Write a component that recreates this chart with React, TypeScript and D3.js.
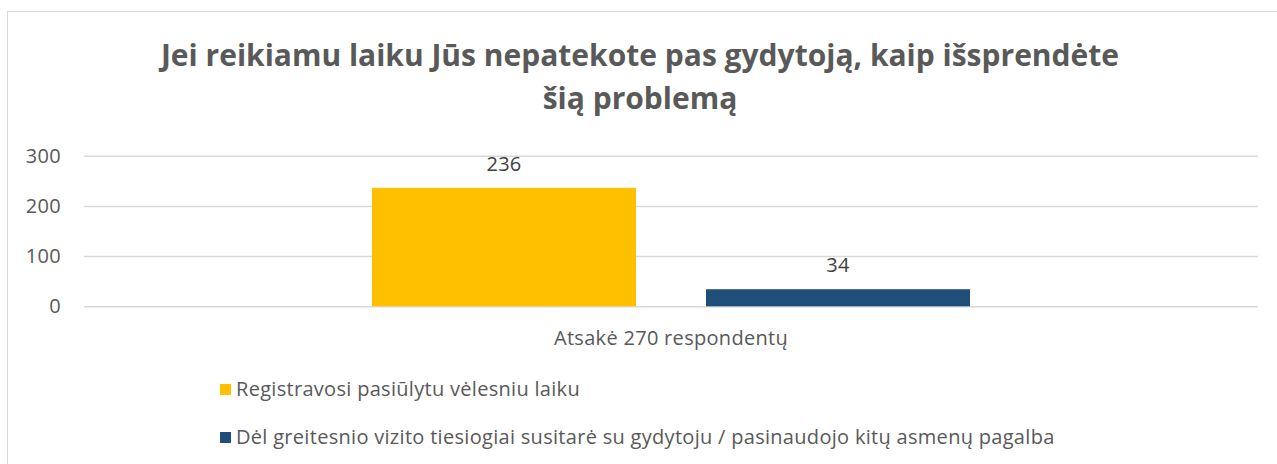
import * as React from 'react';
import * as d3 from 'd3';

const categories = ['Atsakė 270 respondentų'];
const seriesNames = [
  'Registravosi pasiūlytu vėlesniu laiku',
  'Dėl greitesnio vizito tiesiogiai susitarė su gydytoju / pasinaudojo kitų asmenų pagalba',
];
const seriesValues = [236, 34];
const seriesColors = ['#FFC000', '#1F4E79'];
const yTicks = [0, 100, 200, 300];
const titleLines = ['Jei reikiamu laiku Jūs nepatekote pas gydytoją, kaip išsprendėte', 'šią problemą'];

const W = 1277;
const H = 464;
const FONT = "'Open Sans', 'Noto Sans', sans-serif";
const TEXT = '#595959';
const FS = 20;
const LS = 0.3;

export default function App() {
  const svgRef = React.useRef<SVGSVGElement>(null);

  React.useEffect(() => {
    if (!svgRef.current) return;
    const svg = d3.select(svgRef.current);
    svg.selectAll('*').remove();

    const plot = { left: 84, right: 1258, top: 155.7, bottom: 306.3 };

    // frame
    svg
      .append('rect')
      .attr('x', 7.5)
      .attr('y', 11.5)
      .attr('width', W + 10)
      .attr('height', H + 10)
      .attr('fill', '#fff')
      .attr('stroke', '#d9d9d9');

    // title
    svg
      .append('text')
      .attr('text-anchor', 'middle')
      .attr('font-family', FONT)
      .attr('font-weight', 'bold')
      .attr('font-size', 30)
      .attr('fill', TEXT)
      .selectAll('tspan')
      .data(titleLines)
      .enter()
      .append('tspan')
      .attr('x', 640)
      .attr('y', (d, i) => 66 + i * 43)
      .text((d) => d);

    const y = d3.scaleLinear().domain([0, 300]).range([plot.bottom, plot.top]);
    const x0 = d3.scaleBand().domain(categories).range([plot.left, plot.right]);
    const x1 = d3
      .scaleBand()
      .domain(seriesNames)
      .range([0, x0.bandwidth()])
      .paddingInner(70 / 334)
      .paddingOuter((372 - 84) / 334);

    // gridlines
    const yAxis = d3
      .axisLeft(y)
      .tickValues(yTicks)
      .tickSize(-(plot.right - plot.left))
      .tickPadding(23);
    const ya = svg
      .append('g')
      .attr('transform', `translate(${plot.left},0)`)
      .call(yAxis);
    ya.select('.domain').remove();
    ya.selectAll('.tick line').attr('stroke', '#d9d9d9').attr('stroke-width', 1.5);
    ya.selectAll('.tick text')
      .attr('fill', TEXT)
      .attr('font-family', FONT)
      .attr('font-size', FS)
      .attr('letter-spacing', LS);

    // bars
    const g = svg.append('g');
    categories.forEach((c) => {
      seriesNames.forEach((s, i) => {
        const bx = (x0(c) || 0) + (x1(s) || 0);
        g.append('rect')
          .attr('x', bx)
          .attr('y', y(seriesValues[i]))
          .attr('width', x1.bandwidth())
          .attr('height', y(0) - y(seriesValues[i]))
          .attr('fill', seriesColors[i]);
        g.append('text')
          .attr('x', bx + x1.bandwidth() / 2)
          .attr('y', y(seriesValues[i]) - 17)
          .attr('text-anchor', 'middle')
          .attr('font-family', FONT)
          .attr('font-size', FS)
          .attr('letter-spacing', LS)
          .attr('fill', '#404040')
          .text(seriesValues[i]);
      });
      svg
        .append('text')
        .attr('x', (x0(c) || 0) + x0.bandwidth() / 2)
        .attr('y', 345)
        .attr('text-anchor', 'middle')
        .attr('font-family', FONT)
        .attr('font-size', FS)
        .attr('letter-spacing', LS)
        .attr('fill', TEXT)
        .text(c);
    });

    // legend
    const lg = svg.append('g');
    seriesNames.forEach((s, i) => {
      const ly = 396 + i * 48;
      lg.append('rect')
        .attr('x', 220)
        .attr('y', ly - 12)
        .attr('width', 11)
        .attr('height', 11)
        .attr('fill', seriesColors[i]);
      lg.append('text')
        .attr('x', 236)
        .attr('y', ly)
        .attr('font-family', FONT)
        .attr('font-size', FS)
        .attr('letter-spacing', LS)
        .attr('fill', TEXT)
        .text(s);
    });
  }, []);

  return (
    <svg
      ref={svgRef}
      width={W}
      height={H}
      style={{ position: 'absolute', left: 0, top: 0, display: 'block' }}
    />
  );
}
